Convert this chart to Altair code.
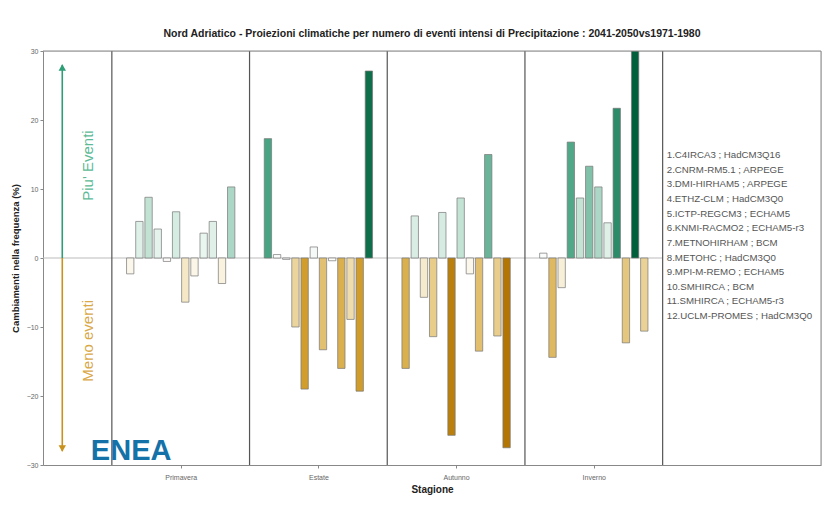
import json
import altair as alt
import pandas as pd

# ---------------- data ----------------
seasons = ["Primavera", "Estate", "Autunno", "Inverno"]
models = [
    "1.C4IRCA3 ; HadCM3Q16",
    "2.CNRM-RM5.1 ; ARPEGE",
    "3.DMI-HIRHAM5 ; ARPEGE",
    "4.ETHZ-CLM ; HadCM3Q0",
    "5.ICTP-REGCM3 ; ECHAM5",
    "6.KNMI-RACMO2 ; ECHAM5-r3",
    "7.METNOHIRHAM ; BCM",
    "8.METOHC ; HadCM3Q0",
    "9.MPI-M-REMO ; ECHAM5",
    "10.SMHIRCA ; BCM",
    "11.SMHIRCA ; ECHAM5-r3",
    "12.UCLM-PROMES ; HadCM3Q0",
]
primavera = [-2.3, 5.3, 8.8, 4.2, -0.5, 6.7, -6.4, -2.6, 3.6, 5.3, -3.7, 10.3]
estate = [17.3, 0.5, -0.2, -10.0, -19.0, 1.6, -13.3, -0.4, -16.0, -8.9, -19.3, 27.1]
autunno = [-16.0, 6.1, -5.7, -11.4, 6.6, -25.7, 8.7, -2.3, -13.5, 15.0, -11.3, -27.5]
inverno = [0.7, -14.4, -4.3, 16.8, 8.7, 13.3, 10.3, 5.1, 21.7, -12.3, 30.0, -10.6]
season_values = [primavera, estate, autunno, inverno]

title_text = ("Nord Adriatico - Proiezioni climatiche per numero di eventi intensi di  "
              "Precipitazione : 2041-2050vs1971-1980")
y_title = "Cambiamenti nella frequenza (%)"
x_title = "Stagione"
y_ticks = [-30, -20, -10, 0, 10, 20, 30]

# ---------------- layout ----------------
PLOT_W = 778
PLOT_H = 414
X_MAX = 5.65
Y_MIN, Y_MAX = -30, 30

# ---------------- tables ----------------
rows = []
for s_i, (season, vals) in enumerate(zip(seasons, season_values), start=1):
    for m_i, (model, v) in enumerate(zip(models, vals), start=1):
        rows.append({"season": season, "spos": s_i, "midx": m_i, "model": model, "value": v})
bars_df = pd.DataFrame(rows)

n = len(models)
slot = 0.8 / n
bar_w = slot * 0.8

sep_df = pd.DataFrame({"pos": [i + 0.5 for i in range(len(seasons) + 1)]})
zero_df = pd.DataFrame({"x0": [0.0], "x1": [len(seasons) + 0.5], "y0": [0.0]})
frame_top_df = pd.DataFrame({"x0": [0.0], "x1": [X_MAX], "y0": [Y_MAX]})
frame_right_df = pd.DataFrame({"x0": [X_MAX]})
legend_df = pd.DataFrame({"label": models, "idx": list(range(n))})

arrow_df = pd.DataFrame({
    "x": [0.14, 0.14], "y0": [0.0, 0.0], "y1": [28.0, -28.0],
    "dir": ["up", "down"],
})
head_df = pd.DataFrame({"x": [0.14], "y": [27.6]})
head_dn_df = pd.DataFrame({"x": [0.14], "y": [-27.6]})
label_df = pd.DataFrame({
    "x": [0.33, 0.33], "y": [13.4, -12.0],
    "text": ["Piu' Eventi", "Meno eventi"], "dir": ["up", "down"],
})
logo_df = pd.DataFrame({"x": [0.64], "y": [-28.0], "text": ["ENEA"]})

# ---------------- scales/axes ----------------
FONT = "Liberation Sans"
xscale = alt.Scale(domain=[0, X_MAX], nice=False, zero=False)
yscale = alt.Scale(domain=[Y_MIN, Y_MAX], nice=False, zero=False)
label_expr = json.dumps(seasons) + "[datum.value - 1]"
xaxis = alt.Axis(values=list(range(1, len(seasons) + 1)), labelExpr=label_expr,
                 grid=False, tickSize=3, labelFontSize=7, labelColor="#666",
                 labelOverlap=False, labelFlush=False, domainColor="#888", tickColor="#888",
                 labelPadding=5,
                 titleFontSize=10, titleFontWeight="bold", titleColor="#222", titlePadding=4,
                 title=x_title)
yaxis = alt.Axis(values=y_ticks, grid=False, tickSize=3, labelFontSize=7, labelColor="#666",
                 domainColor="#888", tickColor="#888", labelFlush=False,
                 titleFontSize=9.5, titleFontWeight="bold", titleColor="#222", titlePadding=6,
                 title=y_title)


def X(field):
    return alt.X(field, type="quantitative", scale=xscale, axis=xaxis)


def Y(field):
    return alt.Y(field, type="quantitative", scale=yscale, axis=yaxis)


# ---------------- layers ----------------
zero_line = alt.Chart(zero_df).mark_rule(color="#bbbbbb", strokeWidth=1).encode(
    x=X("x0"), x2="x1", y=Y("y0")
)
frame_top = alt.Chart(frame_top_df).mark_rule(color="#888888", strokeWidth=1).encode(
    x=X("x0"), x2="x1", y=Y("y0")
)
frame_right = alt.Chart(frame_right_df).mark_rule(color="#888888", strokeWidth=1).encode(
    x=X("x0")
)

separators = alt.Chart(sep_df).mark_rule(color="#555555", strokeWidth=1.2).encode(
    x=X("pos")
)

bars = alt.Chart(bars_df).transform_calculate(
    xc=f"datum.spos + (datum.midx - {(n + 1) / 2}) * {slot}"
).transform_calculate(
    x0=f"datum.xc - {bar_w / 2}", x1=f"datum.xc + {bar_w / 2}", zero="0"
).mark_bar(stroke="#777777", strokeWidth=0.7, clip=True).encode(
    x=X("x0"), x2="x1:Q",
    y=Y("value"), y2="zero:Q",
    color=alt.Color("value:Q", legend=None, scale=alt.Scale(
        domain=[-28, -18, -8, 0, 8, 18, 28],
        range=["#b27400", "#d4a232", "#f2e2b8", "#ffffff", "#cde8dc", "#3f9f7c", "#0b6a46"],
        interpolate="rgb")),
)

arrow_color = alt.Color("dir:N", legend=None,
                        scale=alt.Scale(domain=["up", "down"], range=["#2e9e76", "#c9921c"]))

arrows = alt.Chart(arrow_df).mark_rule(strokeWidth=1.6).encode(
    x=X("x"), y=Y("y0"), y2="y1:Q", color=arrow_color
)
head_up = alt.Chart(head_df).mark_point(shape="triangle-up", filled=True, size=55,
                                        opacity=1, color="#2e9e76").encode(x=X("x"), y=Y("y"))
head_dn = alt.Chart(head_dn_df).mark_point(shape="triangle-down", filled=True, size=55,
                                           opacity=1, color="#c9921c").encode(x=X("x"), y=Y("y"))

labels = alt.Chart(label_df).mark_text(angle=270, fontSize=15, font=FONT,
                                       align="center", baseline="middle").encode(
    x=X("x"), y=Y("y"), text="text:N",
    color=alt.Color("dir:N", legend=None,
                    scale=alt.Scale(domain=["up", "down"], range=["#5dba96", "#d9a847"])),
)

logo = alt.Chart(logo_df).mark_text(fontSize=29, fontWeight="bold", font=FONT,
                                    color="#1472a8", align="center", baseline="middle").encode(
    x=X("x"), y=Y("y"), text="text:N"
)

legend_text = alt.Chart(legend_df).transform_calculate(
    ly="14.9 - datum.idx * 2.12", lx="4.53"
).mark_text(align="left", baseline="middle", fontSize=9.7, font=FONT, color="#555555").encode(
    x=X("lx"), y=Y("ly"), text="label:N"
)

chart = alt.layer(
    zero_line, separators, bars, arrows, head_up, head_dn, labels, logo, legend_text,
    frame_top, frame_right
).resolve_scale(color="independent").properties(
    width=PLOT_W,
    height=PLOT_H,
    autosize=alt.AutoSizeParams(type="none"),
    padding={"left": 35, "top": 43, "right": 1, "bottom": 32},
    title=alt.TitleParams(title_text, fontSize=10.5, fontWeight="bold", color="#222",
                          font=FONT, anchor="middle", offset=8),
).configure_view(stroke="#888888", strokeWidth=1).configure(
    font=FONT, background="white"
)

chart.save("out.html", embed_options={"renderer": "svg", "actions": False})
